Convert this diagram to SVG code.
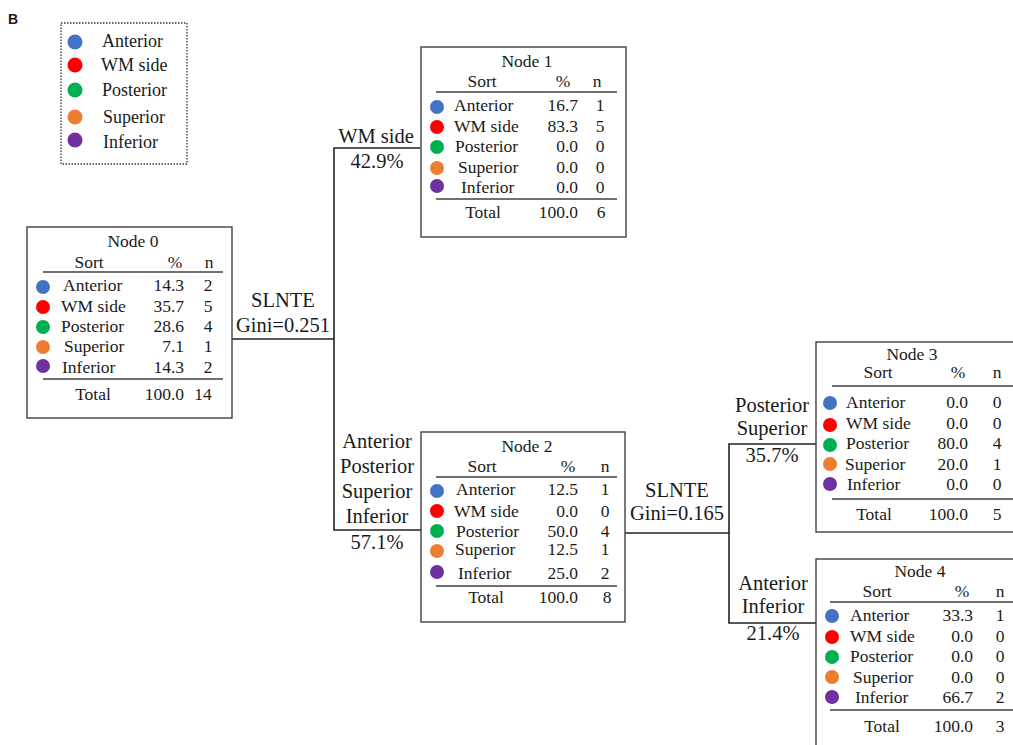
<svg xmlns="http://www.w3.org/2000/svg" width="1013" height="745" viewBox="0 0 1013 745">
<style>
text{font-family:"Liberation Serif","Times New Roman",serif;fill:#1a1a1a}
.t{font-size:17.5px}
.m{text-anchor:middle}
.e{text-anchor:end}
.lab{font-size:20.5px;text-anchor:middle}
.lg{font-size:18px}
.box{fill:#fff;stroke:#404040;stroke-width:1.4}
.rule{stroke:#404040;stroke-width:1.4}
.con{fill:none;stroke:#222;stroke-width:1.6}
.c1{fill:#4472C4}.c2{fill:#FF0000}.c3{fill:#00B050}.c4{fill:#ED7D31}.c5{fill:#7030A0}
</style>
<rect width="1013" height="745" fill="#fff"/>
<text x="8" y="24" style="font-family:'Liberation Sans',Arial,sans-serif;font-weight:bold;font-size:14px">B</text>
<g id="legend">
<rect x="61" y="23" width="126" height="141" fill="none" stroke="#333" stroke-width="1.3" stroke-dasharray="1.5,1.5"/>
<circle class="c1" cx="75" cy="42" r="7.5"/><text class="lg" x="102" y="47">Anterior</text>
<circle class="c2" cx="75" cy="65" r="7.5"/><text class="lg" x="101" y="71">WM side</text>
<circle class="c3" cx="75" cy="90" r="7.5"/><text class="lg" x="102" y="96">Posterior</text>
<circle class="c4" cx="75" cy="117" r="7.5"/><text class="lg" x="103" y="123">Superior</text>
<circle class="c5" cx="75" cy="140" r="7.5"/><text class="lg" x="103" y="148">Inferior</text>
</g>
<g id="connectors">
<polyline class="con" points="232,339 334,339"/>
<polyline class="con" points="420,148 334,148 334,530 421,530"/>
<polyline class="con" points="625,533 729,533"/>
<polyline class="con" points="816,444 729,444 729,623 816,623"/>
<text class="lab" x="283" y="307">SLNTE</text>
<text class="lab" x="283" y="332">Gini=0.251</text>
<text class="lab" x="376" y="143">WM side</text>
<text class="lab" x="377" y="168">42.9%</text>
<text class="lab" x="377" y="448">Anterior</text>
<text class="lab" x="377" y="473">Posterior</text>
<text class="lab" x="377" y="498">Superior</text>
<text class="lab" x="377" y="523">Inferior</text>
<text class="lab" x="377" y="549">57.1%</text>
<text class="lab" x="677" y="497">SLNTE</text>
<text class="lab" x="677" y="520">Gini=0.165</text>
<text class="lab" x="772" y="412">Posterior</text>
<text class="lab" x="772" y="435">Superior</text>
<text class="lab" x="772" y="462">35.7%</text>
<text class="lab" x="773" y="590">Anterior</text>
<text class="lab" x="773" y="613">Inferior</text>
<text class="lab" x="773" y="640">21.4%</text>
</g>
<g id="node0">
<rect class="box" x="27" y="227" width="205" height="191"/>
<text class="t m" x="133" y="247">Node 0</text>
<text class="t m" x="89" y="268">Sort</text><text class="t m" x="175" y="268">%</text><text class="t m" x="209" y="268">n</text>
<line class="rule" x1="43" y1="272" x2="223" y2="272"/>
<circle class="c1" cx="43" cy="287" r="7"/><text class="t" x="63" y="291">Anterior</text><text class="t e" x="184" y="291">14.3</text><text class="t m" x="208" y="291">2</text>
<circle class="c2" cx="43" cy="307" r="7"/><text class="t" x="61" y="312">WM side</text><text class="t e" x="184" y="312">35.7</text><text class="t m" x="208" y="312">5</text>
<circle class="c3" cx="43" cy="327" r="7"/><text class="t" x="61" y="332">Posterior</text><text class="t e" x="184" y="332">28.6</text><text class="t m" x="208" y="332">4</text>
<circle class="c4" cx="43" cy="347" r="7"/><text class="t" x="64" y="352">Superior</text><text class="t e" x="184" y="352">7.1</text><text class="t m" x="208" y="352">1</text>
<circle class="c5" cx="43" cy="366" r="7"/><text class="t" x="62" y="373">Inferior</text><text class="t e" x="184" y="373">14.3</text><text class="t m" x="208" y="373">2</text>
<line class="rule" x1="43" y1="379" x2="223" y2="379"/>
<text class="t m" x="93" y="400">Total</text><text class="t e" x="184" y="400">100.0</text><text class="t m" x="203" y="400">14</text>
</g>
<g id="node1">
<rect class="box" x="421" y="47" width="205" height="190"/>
<text class="t m" x="527" y="67">Node 1</text>
<text class="t m" x="482" y="87">Sort</text><text class="t m" x="563" y="87">%</text><text class="t m" x="597" y="87">n</text>
<line class="rule" x1="436" y1="92" x2="617" y2="92"/>
<circle class="c1" cx="437" cy="107" r="7"/><text class="t" x="454" y="111">Anterior</text><text class="t e" x="578" y="111">16.7</text><text class="t m" x="600" y="111">1</text>
<circle class="c2" cx="437" cy="127" r="7"/><text class="t" x="454" y="132">WM side</text><text class="t e" x="578" y="132">83.3</text><text class="t m" x="600" y="132">5</text>
<circle class="c3" cx="437" cy="147" r="7"/><text class="t" x="455" y="152">Posterior</text><text class="t e" x="578" y="152">0.0</text><text class="t m" x="600" y="152">0</text>
<circle class="c4" cx="437" cy="168" r="7"/><text class="t" x="458" y="173">Superior</text><text class="t e" x="578" y="173">0.0</text><text class="t m" x="600" y="173">0</text>
<circle class="c5" cx="437" cy="186" r="7"/><text class="t" x="461" y="193">Inferior</text><text class="t e" x="578" y="193">0.0</text><text class="t m" x="600" y="193">0</text>
<line class="rule" x1="436" y1="199" x2="617" y2="199"/>
<text class="t m" x="483" y="218">Total</text><text class="t e" x="578" y="218">100.0</text><text class="t m" x="601" y="218">6</text>
</g>
<g id="node2">
<rect class="box" x="421" y="432" width="204" height="190"/>
<text class="t m" x="527" y="452">Node 2</text>
<text class="t m" x="482" y="472">Sort</text><text class="t m" x="568" y="472">%</text><text class="t m" x="605" y="472">n</text>
<line class="rule" x1="436" y1="477" x2="617" y2="477"/>
<circle class="c1" cx="437" cy="491" r="7"/><text class="t" x="456" y="495">Anterior</text><text class="t e" x="578" y="495">12.5</text><text class="t m" x="605" y="495">1</text>
<circle class="c2" cx="437" cy="511" r="7"/><text class="t" x="454" y="517">WM side</text><text class="t e" x="578" y="517">0.0</text><text class="t m" x="605" y="517">0</text>
<circle class="c3" cx="437" cy="531" r="7"/><text class="t" x="456" y="537">Posterior</text><text class="t e" x="578" y="537">50.0</text><text class="t m" x="605" y="537">4</text>
<circle class="c4" cx="437" cy="551" r="7"/><text class="t" x="455" y="555">Superior</text><text class="t e" x="578" y="555">12.5</text><text class="t m" x="605" y="555">1</text>
<circle class="c5" cx="437" cy="572" r="7"/><text class="t" x="458" y="579">Inferior</text><text class="t e" x="578" y="579">25.0</text><text class="t m" x="605" y="579">2</text>
<line class="rule" x1="436" y1="586" x2="617" y2="586"/>
<text class="t m" x="486" y="603">Total</text><text class="t e" x="578" y="603">100.0</text><text class="t m" x="607" y="603">8</text>
</g>
<g id="node3">
<rect class="box" x="816" y="342" width="220" height="190"/>
<text class="t m" x="912" y="360">Node 3</text>
<text class="t m" x="878" y="378">Sort</text><text class="t m" x="958" y="378">%</text><text class="t m" x="997" y="378">n</text>
<line class="rule" x1="832" y1="386" x2="1020" y2="386"/>
<circle class="c1" cx="830" cy="403" r="7"/><text class="t" x="846" y="408">Anterior</text><text class="t e" x="968" y="408">0.0</text><text class="t m" x="997" y="408">0</text>
<circle class="c2" cx="830" cy="425" r="7"/><text class="t" x="846" y="429">WM side</text><text class="t e" x="968" y="429">0.0</text><text class="t m" x="997" y="429">0</text>
<circle class="c3" cx="830" cy="445" r="7"/><text class="t" x="846" y="449">Posterior</text><text class="t e" x="968" y="449">80.0</text><text class="t m" x="997" y="449">4</text>
<circle class="c4" cx="830" cy="464" r="7"/><text class="t" x="845" y="470">Superior</text><text class="t e" x="968" y="470">20.0</text><text class="t m" x="997" y="470">1</text>
<circle class="c5" cx="830" cy="484" r="7"/><text class="t" x="847" y="490">Inferior</text><text class="t e" x="968" y="490">0.0</text><text class="t m" x="997" y="490">0</text>
<line class="rule" x1="832" y1="499" x2="1020" y2="499"/>
<text class="t m" x="874" y="520">Total</text><text class="t e" x="968" y="520">100.0</text><text class="t m" x="997" y="520">5</text>
</g>
<g id="node4">
<rect class="box" x="816" y="559" width="220" height="200"/>
<text class="t m" x="920" y="577">Node 4</text>
<text class="t m" x="877" y="597">Sort</text><text class="t m" x="962" y="597">%</text><text class="t m" x="1000" y="597">n</text>
<line class="rule" x1="830" y1="602" x2="1020" y2="602"/>
<circle class="c1" cx="832" cy="616" r="7"/><text class="t" x="850" y="621">Anterior</text><text class="t e" x="973" y="621">33.3</text><text class="t m" x="1000" y="621">1</text>
<circle class="c2" cx="832" cy="637" r="7"/><text class="t" x="850" y="642">WM side</text><text class="t e" x="973" y="642">0.0</text><text class="t m" x="1000" y="642">0</text>
<circle class="c3" cx="832" cy="657" r="7"/><text class="t" x="850" y="662">Posterior</text><text class="t e" x="973" y="662">0.0</text><text class="t m" x="1000" y="662">0</text>
<circle class="c4" cx="832" cy="677" r="7"/><text class="t" x="853" y="683">Superior</text><text class="t e" x="973" y="683">0.0</text><text class="t m" x="1000" y="683">0</text>
<circle class="c5" cx="832" cy="697" r="7"/><text class="t" x="855" y="703">Inferior</text><text class="t e" x="973" y="703">66.7</text><text class="t m" x="1000" y="703">2</text>
<line class="rule" x1="830" y1="710" x2="1020" y2="710"/>
<text class="t m" x="882" y="732">Total</text><text class="t e" x="973" y="732">100.0</text><text class="t m" x="1000" y="732">3</text>
</g>
</svg>
